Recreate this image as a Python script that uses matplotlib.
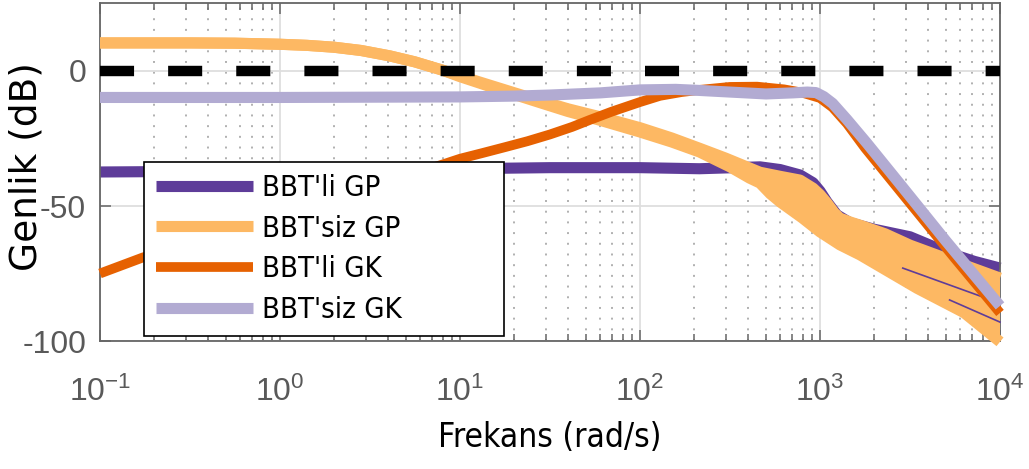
import numpy as np
import matplotlib
matplotlib.use("Agg")
import matplotlib.pyplot as plt
from matplotlib.ticker import LogLocator, FixedLocator, NullFormatter

# frequencies in rad/s, magnitudes in dB
w_gp_li = [0.1, 1.0, 10, 31.6, 100, 214, 464, 600, 774, 915, 1000, 1094, 1242, 1468, 1995, 3162, 5248, 7200, 10000]
db_gp_li = [-37.4, -37.0, -36.2, -35.8, -35.8, -36.2, -35.5, -36.5, -38.5, -41.4, -44.5, -48.5, -53.3, -56.2, -58.6, -61.4, -67.5, -70.5, -73.0]

# two lower members of the same family that show through the band at high frequency
w_gp_li_low1 = [2884, 10000]
db_gp_li_low1 = [-73.0, -86.0]
w_gp_li_low2 = [5248, 10000]
db_gp_li_low2 = [-84.8, -93.0]

# upper and lower members of the BBT'siz GP family
w_gp_siz_hi = [0.1, 0.316, 0.56, 1.0, 1.41, 2.0, 2.82, 4.07, 5.6, 8.0, 10, 12.6, 17.8, 25.7, 39.8, 60.3, 100, 150, 214, 300,
               464, 600, 774, 915, 1000, 1094, 1200, 1291, 1468, 1668, 2300, 3162, 5248, 10000]
db_gp_siz_hi = [10.4, 10.4, 10.3, 9.9, 9.5, 8.8, 7.6, 5.6, 3.4, 0.3, -1.8, -3.9, -7.0, -10.3, -14.0, -17.0, -21.0, -24.8, -28.6, -32.3,
                -37.5, -39.0, -40.4, -43.4, -45.8, -48.9, -52.5, -54.5, -55.9, -57.1, -60.3, -64.5, -69.9, -76.7]
w_gp_siz_lo = [0.1, 0.316, 0.56, 1.0, 1.41, 2.0, 2.82, 4.07, 5.6, 8.0, 10, 12.6, 17.8, 25.7, 39.8, 60.3, 100, 150, 214, 316,
               407, 464, 530, 600, 800, 1000, 1291, 1668, 3467, 6310, 10000]
db_gp_siz_lo = [10.4, 10.4, 10.3, 9.9, 9.5, 8.8, 7.6, 5.6, 3.4, 0.3, -2.1, -4.3, -7.6, -11.0, -15.0, -18.3, -22.6, -26.3, -30.0, -35.5,
                -39.7, -41.5, -45.5, -48.5, -54.5, -59.6, -64.4, -68.1, -80.5, -89.5, -100.3]

w_gk_li = [0.1, 0.174, 0.316, 0.562, 1.0, 1.78, 3.16, 5.62, 10, 13.3, 17.8, 23.7, 31.6, 42, 52.7, 70, 100, 129, 170, 214,
           316, 447, 631, 794, 1000, 1175, 1413, 1778, 3162, 5623, 10000]
db_gk_li = [-75.0, -69.0, -64.5, -59.5, -54.0, -48.8, -43.5, -38.0, -32.5, -30.4, -28.2, -26.0, -23.5, -20.7, -18.1, -15.0, -11.5, -9.2, -7.8, -7.0,
            -5.9, -5.8, -6.8, -8.0, -10.0, -13.5, -19.5, -28.5, -49.0, -69.5, -89.6]

w_gk_siz = [0.1, 1.0, 10, 20, 31.6, 60.3, 100, 158, 214, 316, 501, 708, 851, 950, 1050, 1175, 1413, 1820, 2754, 5012, 10000]
db_gk_siz = [-9.8, -9.8, -9.6, -9.3, -8.9, -8.1, -7.0, -6.8, -7.2, -7.8, -8.5, -8.1, -7.8, -8.0, -9.5, -12.0, -18.0, -26.7, -41.5, -63.0, -87.0]

labels = ["BBT'li GP", "BBT'siz GP", "BBT'li GK", "BBT'siz GK"]
colors = ["#5e3c99", "#fdb863", "#e66101", "#b2abd2"]

plt.rcParams["axes.unicode_minus"] = False
plt.rcParams["font.family"] = "DejaVu Sans"

fig = plt.figure(figsize=(10.29, 4.69), dpi=100)
ax = fig.add_axes([100 / 1029, 1 - 341 / 469, 900 / 1029, 337.5 / 469])

lw = 8
line_kw = dict(clip_on=False, solid_capstyle="butt", solid_joinstyle="round")

h1, = ax.plot(w_gp_li, db_gp_li, color=colors[0], lw=lw, zorder=2, **line_kw)

band = list(zip(w_gp_siz_hi, db_gp_siz_hi)) + list(zip(w_gp_siz_lo, db_gp_siz_lo))[::-1]
ax.fill([p[0] for p in band], [p[1] for p in band], color=colors[1], lw=0, zorder=3, clip_on=False)
h2, = ax.plot(w_gp_siz_hi, db_gp_siz_hi, color=colors[1], lw=lw, zorder=3, **line_kw)
ax.plot(w_gp_siz_lo, db_gp_siz_lo, color=colors[1], lw=lw, zorder=3, **line_kw)

ax.plot(w_gp_li_low1, db_gp_li_low1, color=colors[0], lw=1.2, zorder=3.5, clip_on=False)
ax.plot(w_gp_li_low2, db_gp_li_low2, color=colors[0], lw=1.2, zorder=3.5, clip_on=False)

h3, = ax.plot(w_gk_li, db_gk_li, color=colors[2], lw=7, zorder=4, **line_kw)
h4, = ax.plot(w_gk_siz, db_gk_siz, color=colors[3], lw=lw, zorder=5, **line_kw)

# 0 dB reference
ax.axhline(0, color="black", lw=7.5, ls=(0, (3.27, 3.27)), zorder=6)

ax.set_xscale("log")
ax.set_xlim(0.1, 1e4)
ax.set_ylim(-100, 25)
ax.yaxis.set_major_locator(FixedLocator([-100, -50, 0]))
ax.xaxis.set_major_locator(LogLocator(base=10, numticks=10))
ax.xaxis.set_minor_locator(LogLocator(base=10, subs=np.arange(2, 10), numticks=20))
ax.xaxis.set_minor_formatter(NullFormatter())

ax.set_axisbelow(True)
ax.grid(which="major", color="#dedede", lw=1.3)
ax.grid(which="minor", axis="x", color="#b0b0b0", lw=1.4, ls=(0, (1, 4.5)))

for s in ax.spines.values():
    s.set_color("#666666")
    s.set_linewidth(1.3)

ax.tick_params(which="both", direction="in", top=True, right=True, color="#666666",
               labelcolor="#595959", width=1.1, labelsize=23, labelfontfamily="Liberation Sans")
ax.tick_params(which="major", length=8)
ax.tick_params(which="minor", length=5)
ax.tick_params(axis="x", which="major", pad=26)
ax.tick_params(axis="y", which="major", pad=10)

ax.set_xlabel("Frekans (rad/s)", fontsize=24, fontstretch="condensed", labelpad=9)
ax.set_ylabel("Genlik (dB)", fontsize=27)
ax.yaxis.set_label_coords(-0.062, 0.516)

leg = ax.legend([h1, h2, h3, h4], labels, loc="upper left",
                bbox_to_anchor=(0.049, 0.02, 0.4, 0.51), mode="expand", borderaxespad=0,
                prop=dict(family="DejaVu Sans", size=21, stretch="condensed"),
                handlelength=3.35, handletextpad=0.3, labelspacing=0.44, borderpad=0.4,
                fancybox=False, framealpha=1, edgecolor="black")
leg.get_frame().set_linewidth(1.2)
leg.set_zorder(10)

fig.savefig("out.png", dpi=100)
